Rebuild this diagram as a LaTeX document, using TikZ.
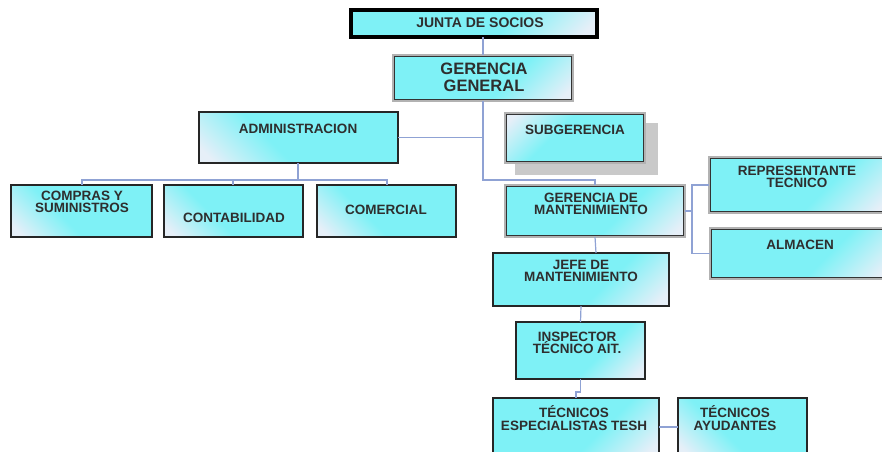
\documentclass[tikz,border=0pt]{standalone}
\usepackage{fontspec}
\setmainfont{Liberation Sans}
\usetikzlibrary{calc}
\definecolor{cya}{HTML}{7EF1F6}
\definecolor{lite}{HTML}{E6EFF8}
\definecolor{lnk}{HTML}{8FA2D4}
\definecolor{ink}{HTML}{2E2E2E}
\definecolor{shd}{HTML}{C9C9C9}
% pale corner fading into cyan; 0bp is the bottom of the shading
\pgfdeclareverticalshading{boxgrad}{100bp}{color(0bp)=(lite); color(19bp)=(lite); color(41bp)=(cya); color(100bp)=(cya)}
\tikzset{
  box/.style={rectangle, anchor=north west, inner sep=0pt, outer sep=0pt,
    draw=black!85, line width=1.3pt,
    shade, shading=boxgrad, shading angle=-45},
  litebr/.style={shading angle=45},
  litetl/.style={shading angle=-135},
  plain/.style={draw=none},
  rimout/.style={draw=gray!60, line width=2.6pt},
  rimin/.style={draw=black!80, line width=1.1pt},
  heavy/.style={draw=black, line width=3.6pt},
  txt/.style={align=center, text=ink, inner sep=0pt,
    font=\bfseries\fontsize{13.5}{12.5}\selectfont},
  conn/.style={draw=lnk, line width=1.2pt},
}
\begin{document}
\begin{tikzpicture}[x=1pt,y=-1pt]
\useasboundingbox (0,0) rectangle (882,451);

% boxes
\node[box, heavy, litebr, minimum width=246pt, minimum height=27pt] (jsoc) at (351,10) {};
\node[box, plain, litebr, minimum width=180pt, minimum height=46pt] (gg) at (393,55) {};
\node[box, minimum width=199pt, minimum height=51pt] (adm) at (199,112) {};
\fill[shd] (515,123) rectangle (658,175);
\node[box, plain, litetl, minimum width=140pt, minimum height=50pt] (sub) at (505,113) {};
\node[box, minimum width=141pt, minimum height=52pt] (comp) at (11,185) {};
\node[box, minimum width=139pt, minimum height=52pt] (cont) at (164,185) {};
\node[box, minimum width=139pt, minimum height=52pt] (come) at (317,185) {};
\node[box, plain, litebr, minimum width=180pt, minimum height=52pt] (gm) at (505,185) {};
\node[box, plain, litebr, minimum width=180pt, minimum height=56pt] (rep) at (709,157) {};
\node[box, plain, litebr, minimum width=180pt, minimum height=51pt] (alm) at (710,228) {};
\node[box, litebr, minimum width=176pt, minimum height=53pt] (jefe) at (493,253) {};
\node[box, litebr, minimum width=129pt, minimum height=57pt] (insp) at (516,322) {};
\node[box, litebr, minimum width=166pt, minimum height=58pt] (tesp) at (493,398) {};
\node[box, minimum width=129pt, minimum height=58pt] (tayu) at (678,398) {};

% two-tone rims: grey outside, dark inside
\foreach \n in {gg,sub,gm,rep,alm}{
  \draw[rimout] (\n.north west) rectangle (\n.south east);
  \draw[rimin] ([shift={(1.5,1.5)}]\n.north west) rectangle ([shift={(-1.5,-1.5)}]\n.south east);
}

% labels
\node[txt, font=\bfseries\fontsize{14}{13}\selectfont] (tjsoc) at (480,23) {JUNTA DE SOCIOS};
\node[txt, font=\bfseries\fontsize{16.5}{17}\selectfont] (tgg) at (484,77) {GERENCIA\\GENERAL};
\node[txt] (tadm) at (298,129) {ADMINISTRACION};
\node[txt] (tsub) at (575,130) {SUBGERENCIA};
\node[txt] (tcomp) at (82,202) {COMPRAS Y\\SUMINISTROS};
\node[txt] (tcont) at (234,218) {CONTABILIDAD};
\node[txt] (tcome) at (386,210) {COMERCIAL};
\node[txt] (tgm) at (591,204) {GERENCIA DE\\MANTENIMIENTO};
\node[txt] (trep) at (797,177) {REPRESENTANTE\\TECNICO};
\node[txt] (talm) at (800,245) {ALMACEN};
\node[txt] (tjefe) at (581,271) {JEFE DE\\MANTENIMIENTO};
\node[txt] (tinsp) at (577,343) {INSPECTOR\\TÉCNICO AIT.};
\node[txt] (ttesp) at (574,418) {TÉCNICOS\\ESPECIALISTAS TESH};
\node[txt] (ttayu) at (735,418) {TÉCNICOS\\AYUDANTES};

% connector guide points
\coordinate (spine) at (483,0);
\coordinate (busA) at (0,180);
\coordinate (admx) at (298,0);
\coordinate (compx) at (82,0);
\coordinate (contx) at (233,0);
\coordinate (comex) at (387,0);
\coordinate (gmx) at (595,0);
\coordinate (sidex) at (692,0);
\coordinate (jefex) at (596,0);

% connectors
\draw[conn] (spine |- jsoc.south) -- (spine |- gg.north);
\draw[conn] (spine |- gg.south) -- (spine |- busA) -- (gmx |- busA) -- (gmx |- gm.north);
\draw[conn] (spine |- adm.east) -- (adm.east);
\draw[conn] (admx |- adm.south) -- (admx |- busA);
\draw[conn] (compx |- comp.north) -- (compx |- busA) -- (comex |- busA) -- (comex |- come.north);
\draw[conn] (contx |- busA) -- (contx |- cont.north);
\draw[conn] (gm.east) -- (sidex |- gm.east);
\draw[conn] (rep.west) -- (sidex |- rep.west) -- (sidex |- alm.west) -- (alm.west);
\draw[conn] (gmx |- gm.south) -- (jefex |- jefe.north);
\draw[conn] (jefe.south) -- (insp.north);
\draw[conn] (insp.south) -- ++(0,13) -| (tesp.north);
\draw[conn] (tesp.east) -- (tayu.west);
\end{tikzpicture}
\end{document}
